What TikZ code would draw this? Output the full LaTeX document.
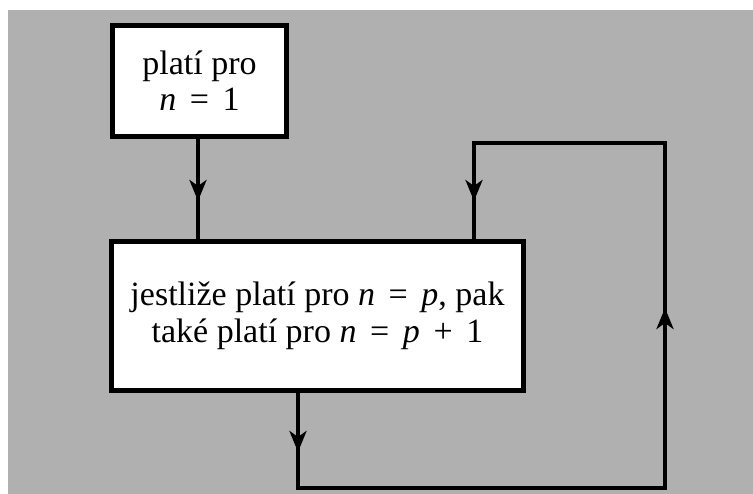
\documentclass[tikz,border=0pt]{standalone}
\usepackage{fontspec}
\setmainfont{Liberation Serif}
\usetikzlibrary{arrows.meta}
\definecolor{bggray}{RGB}{176,176,176}
\newcommand{\opsp}[1]{\hspace{0.4em}#1\hspace{0.4em}}
\tikzset{
  box/.style={draw=black, fill=white, line width=5pt, align=center, inner sep=0pt},
  conn/.style={draw=black, line width=4pt, line join=miter},
  tip/.style={-{Stealth[length=21pt,width=17pt,inset=6pt]}},
  toptext/.style={font=\fontsize{34}{36}\selectfont},
  bigtext/.style={font=\fontsize{34}{37}\selectfont},
}
\begin{document}
\begin{tikzpicture}[x=1pt,y=-1pt]
\useasboundingbox (0,0) rectangle (753,494);
\fill[white] (0,0) rectangle (753,494);
\fill[bggray] (8,10) rectangle (753,494);

\coordinate (c1) at (298,488);
\coordinate (c2) at (665,488);
\coordinate (c3) at (665,143.5);
\coordinate (c4) at (474,143.5);
\coordinate (t1) at (198,201);
\coordinate (t2) at (298,452);
\coordinate (t3) at (665,308);
\coordinate (t4) at (474,201);

\node[box, toptext, minimum width=174pt, minimum height=111pt] (top) at (199.5,81) {};
\node[box, bigtext, minimum width=412pt, minimum height=149pt] (big) at (317.5,316) {};

% first arrow
\draw[conn] (top.south -| t1) -- (big.north -| t1);
\draw[conn,tip] (top.south -| t1) -- (t1);

% feedback loop
\draw[conn] (big.south -| c1) -- (c1) -- (c2) -- (c3) -- (c4) -- (big.north -| c4);
\draw[conn,tip] (big.south -| c1) -- (t2);
\draw[conn,tip] (c2) -- (t3);
\draw[conn,tip] (c4) -- (t4);

% boxes with text drawn over connector ends
\node[box, toptext, minimum width=174pt, minimum height=111pt] at (top)
  {platí pro\\\textit{n}\opsp{=}1};
\node[box, bigtext, minimum width=412pt, minimum height=149pt] at (big)
  {jestliže platí pro \textit{n}\opsp{=}\textit{p}, pak\\také platí pro \textit{n}\opsp{=}\textit{p}\opsp{+}1};
\end{tikzpicture}
\end{document}
